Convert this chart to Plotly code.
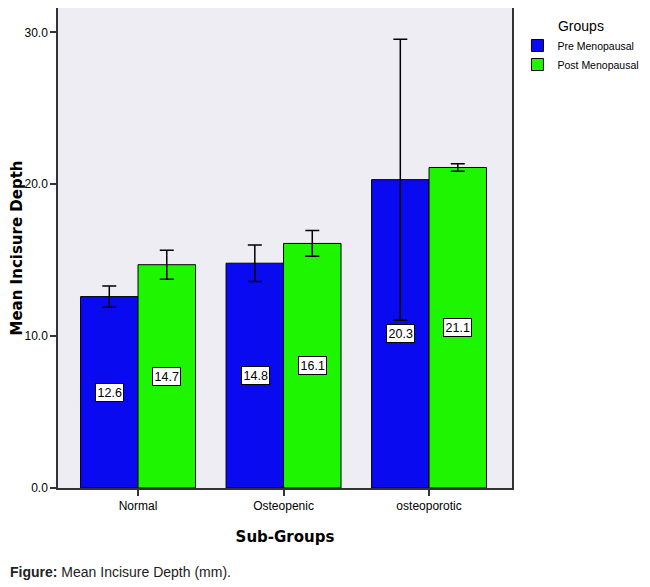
import plotly.graph_objects as go

# dados
sub_groups = ['Normal', 'Osteopenic', 'osteoporotic']
pre_mean = [12.6, 14.8, 20.3]
pre_err = [0.7, 1.2, 9.25]
post_mean = [14.7, 16.1, 21.1]
post_err = [0.95, 0.85, 0.25]

blue = '#0A0AF0'
green = '#1EF500'
narrow = 'Liberation Sans Narrow, Arial Narrow, Liberation Sans, Arial'

fig = go.Figure()

fig.add_trace(go.Bar(
    x=sub_groups, y=pre_mean, name='Pre Menopausal',
    marker=dict(color=blue, line=dict(color='black', width=1)),
    error_y=dict(type='data', array=pre_err, color='black', thickness=1.5, width=7)
))
fig.add_trace(go.Bar(
    x=sub_groups, y=post_mean, name='Post Menopausal',
    marker=dict(color=green, line=dict(color='black', width=1)),
    error_y=dict(type='data', array=post_err, color='black', thickness=1.5, width=7)
))

# rótulos com caixa no meio das barras
for vals, shift in [(pre_mean, -28.5), (post_mean, 28.5)]:
    for cat, v in zip(sub_groups, vals):
        fig.add_annotation(
            x=cat, y=v / 2, text=f'{v:.1f}', showarrow=False, xshift=shift,
            bgcolor='white', bordercolor='black', borderwidth=1, borderpad=1.5,
            font=dict(family=narrow, size=12.5, color='black')
        )

# legenda da figura
fig.add_annotation(
    xref='paper', yref='paper', x=-0.11, y=-0.175, xanchor='left', yanchor='middle',
    text='<b>Figure:</b> Mean Incisure Depth (mm).', showarrow=False,
    font=dict(family=narrow, size=14, color='#222')
)

# a página tem margem de 8px no body, por isso 642x579
fig.update_layout(
    width=642, height=579,
    margin=dict(l=50, r=138, t=0, b=99, autoexpand=False),
    paper_bgcolor='white', plot_bgcolor='#EDEDF3',
    barmode='group', bargap=0.21, bargroupgap=0,
    showlegend=True,
    legend=dict(
        x=1.012, y=0.99, xanchor='left', yanchor='top',
        title=dict(text='Groups', side='top center', font=dict(family=narrow, size=14)),
        font=dict(family=narrow, size=10.5, color='black'),
        tracegroupgap=0, itemwidth=30
    ),
    font=dict(family=narrow, color='black')
)

fig.update_xaxes(
    range=[-0.55, 2.57], automargin=False,
    showline=True, linecolor='#333', linewidth=1.5, mirror=True,
    ticks='outside', ticklen=6, tickcolor='#333', tickwidth=1.5,
    tickfont=dict(family=narrow, size=12),
    title=dict(text='<b>Sub-Groups</b>', font=dict(family='DejaVu Sans', size=15), standoff=19)
)
fig.update_yaxes(
    range=[0, 31.6], automargin=False,
    tickvals=[0, 10, 20, 30], ticktext=['0.0', '10.0', '20.0', '30.0'],
    showgrid=False, zeroline=False, showline=True, linecolor='#333', linewidth=1.5, mirror=True,
    ticks='outside', ticklen=6, tickcolor='#333', tickwidth=1.5,
    tickfont=dict(family=narrow, size=12),
    title=dict(text='<b>Mean Incisure Depth</b>', font=dict(family='DejaVu Sans', size=15), standoff=6)
)

fig.write_html('out.html')
